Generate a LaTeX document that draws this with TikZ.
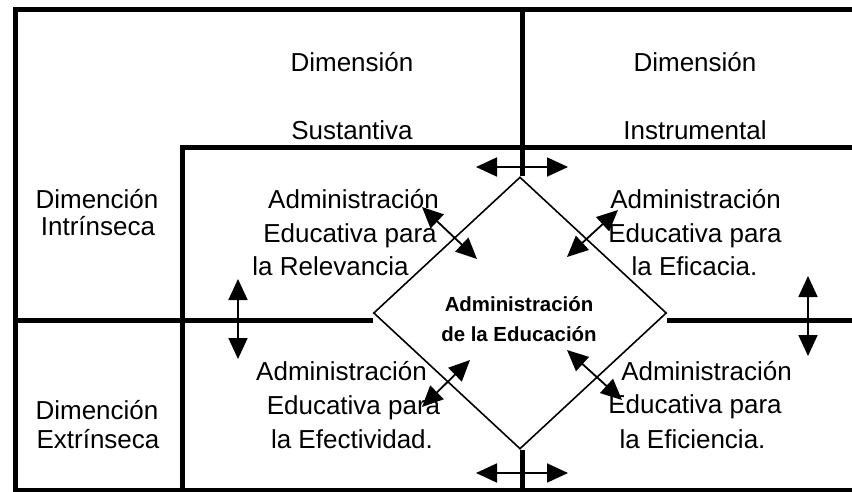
\documentclass[tikz,border=0pt]{standalone}
\usepackage{fontspec}
\setmainfont{Liberation Sans}
\usetikzlibrary{arrows.meta,shapes.geometric}
\begin{document}
\begin{tikzpicture}[x=1pt,y=-1pt,
  thickline/.style={line width=5pt, line join=miter},
  lbl/.style={anchor=base, inner sep=0pt, font=\fontsize{26}{31}\selectfont},
  ctr/.style={anchor=base, inner sep=0pt, font=\fontsize{20.4}{24}\selectfont\bfseries},
  dbl/.style={{Triangle[length=21pt,width=19pt]}-{Triangle[length=21pt,width=19pt]}, line width=1.8pt},
  dia/.style={draw, diamond, minimum width=293pt, minimum height=272pt, inner sep=0pt, line width=1.6pt}
]
\useasboundingbox (0,0) rectangle (852,492);

% diamond
\node[dia] (D) at (520,313) {};

% frame and dividers
\coordinate (TR) at (852,10);
\coordinate (TL) at (15,10);
\coordinate (BL) at (15,490);
\coordinate (BR) at (852,490);
\draw[thickline] (TR) -- (TL) -- (BL) -- (BR);
\coordinate (VT) at (522,10);
\draw[thickline] (VT) -- (VT |- D.north);
\coordinate (VB) at (522,490);
\draw[thickline] (VB) -- (VB |- D.south);
\coordinate (HR) at (852,148);
\coordinate (IC) at (182,148);
\coordinate (IB) at (182,490);
\draw[thickline] (HR) -- (IC) -- (IB);
\coordinate (ML) at (15,320);
\coordinate (MR) at (852,320);
\draw[thickline] (ML) -- (ML -| D.west);
\draw[thickline] (MR) -- (MR -| D.east);

% headers
\node[lbl] (h1) at (352,72) {Dimensión};
\node[lbl] (h2) at (352,140) {Sustantiva};
\node[lbl] (h3) at (695,72) {Dimensión};
\node[lbl] (h4) at (695,140) {Instrumental};
\node[lbl] (l1) at (97,208) {Dimención};
\node[lbl] (l2) at (98,235) {Intrínseca};
\node[lbl] (l3) at (97,419) {Dimención};
\node[lbl] (l4) at (98,448) {Extrínseca};

% quadrants
\node[lbl] (a1) at (353.5,208) {Administración};
\node[lbl] (a2) at (350,243) {Educativa para};
\node[lbl] (a3) at (330.5,275) {la Relevancia};
\node[lbl] (b1) at (695.5,208) {Administración};
\node[lbl] (b2) at (695,242) {Educativa para};
\node[lbl] (b3) at (694.5,275) {la Eficacia.};
\node[lbl] (c1) at (341.5,380) {Administración};
\node[lbl] (c2) at (353.5,414) {Educativa para};
\node[lbl] (c3) at (352,448) {la Efectividad.};
\node[lbl] (d1) at (706.5,380) {Administración};
\node[lbl] (d2) at (695,413) {Educativa para};
\node[lbl] (d3) at (692.5,448) {la Eficiencia.};

% center
\node[ctr] (m1) at (519,311) {Administración};
\node[ctr] (m2) at (519,341) {de la Educación};

% arrows
\coordinate (ta1) at (476,167); \coordinate (ta2) at (568,167);
\coordinate (ba1) at (476,473); \coordinate (ba2) at (568,473);
\coordinate (la1) at (238,279); \coordinate (la2) at (238,359);
\coordinate (ra1) at (808,276); \coordinate (ra2) at (808,356);
\coordinate (ul1) at (422,207); \coordinate (ul2) at (477,259);
\coordinate (ur1) at (618,210); \coordinate (ur2) at (567,257);
\coordinate (ll1) at (470,360); \coordinate (ll2) at (422,407);
\coordinate (lr1) at (567,350); \coordinate (lr2) at (622,400);
\draw[dbl] (ta1) -- (ta2);
\draw[dbl] (ba1) -- (ba2);
\draw[dbl] (la1) -- (la2);
\draw[dbl] (ra1) -- (ra2);
\draw[dbl] (ul1) -- (ul2);
\draw[dbl] (ur1) -- (ur2);
\draw[dbl] (ll1) -- (ll2);
\draw[dbl] (lr1) -- (lr2);
\end{tikzpicture}
\end{document}
